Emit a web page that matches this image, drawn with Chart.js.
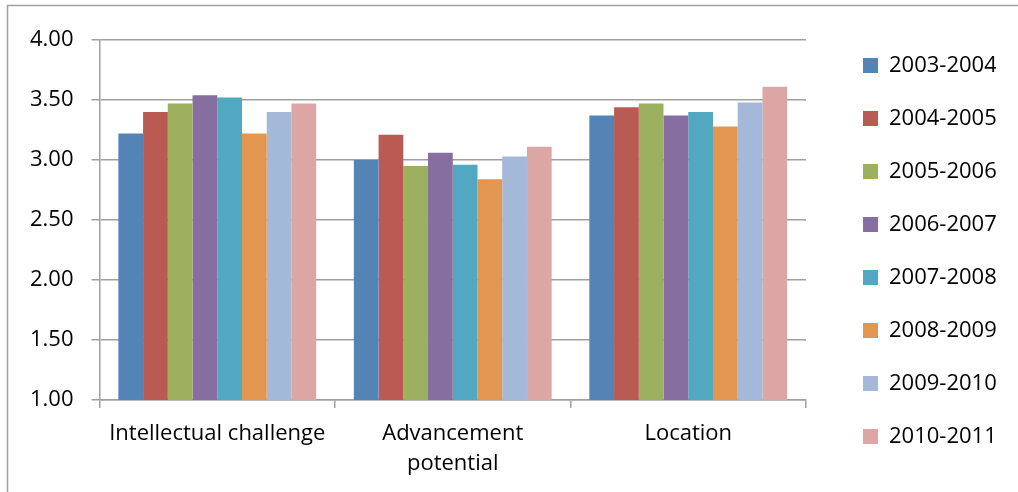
<!DOCTYPE html>
<html>
<head>
<meta charset="utf-8">
<script src="https://cdn.jsdelivr.net/npm/chart.js@4.4.1/dist/chart.umd.min.js"></script>
<style>
  html, body { margin: 0; padding: 0; background: #fff; }
  #wrap { width: 1018px; height: 492px; }
</style>
</head>
<body>
<div id="wrap"><canvas id="grafico"></canvas></div>
<script>
// dados
const categorias = ['Intellectual challenge', ['Advancement', 'potential'], 'Location'];
const anos = ['2003-2004', '2004-2005', '2005-2006', '2006-2007', '2007-2008', '2008-2009', '2009-2010', '2010-2011'];
const valores2003 = [3.22, 3.00, 3.37];
const valores2004 = [3.40, 3.21, 3.44];
const valores2005 = [3.47, 2.95, 3.47];
const valores2006 = [3.54, 3.06, 3.37];
const valores2007 = [3.52, 2.96, 3.40];
const valores2008 = [3.22, 2.84, 3.28];
const valores2009 = [3.40, 3.03, 3.48];
const valores2010 = [3.47, 3.11, 3.61];
const ticksY = [1.00, 1.50, 2.00, 2.50, 3.00, 3.50, 4.00];

const series = [valores2003, valores2004, valores2005, valores2006, valores2007, valores2008, valores2009, valores2010];
const cores = ['#5483b6', '#b95a53', '#9db05f', '#866ea0', '#51a8c0', '#e3964f', '#a4b8d9', '#dca6a4'];

const fonte = '"Open Sans", Lato, sans-serif';
const corGrade = '#a0a0a0';

// moldura: só esquerda e topo
const moldura = {
    id: 'moldura',
    afterDraw(chart) {
        const ctx = chart.ctx;
        ctx.save();
        ctx.strokeStyle = corGrade;
        ctx.lineWidth = 1.5;
        ctx.beginPath();
        ctx.moveTo(7.5, chart.height);
        ctx.lineTo(7.5, 5.5);
        ctx.lineTo(chart.width, 5.5);
        ctx.stroke();
        ctx.restore();
    }
};

// eixo vazio só para reservar espaço
function espaco(pos, tamanho) {
    return {
        type: 'linear',
        axis: (pos === 'top' || pos === 'bottom') ? 'x' : 'y',
        position: pos,
        display: true,
        min: 0, max: 1,
        ticks: { display: false },
        grid: { display: false },
        border: { display: false },
        afterFit: (axis) => {
            if (pos === 'top' || pos === 'bottom') axis.height = tamanho;
            else axis.width = tamanho;
        }
    };
}

function desenhar() {
    const ctx = document.getElementById('grafico').getContext('2d');
    new Chart(ctx, {
        type: 'bar',
        data: {
            labels: categorias,
            datasets: series.map((s, i) => ({
                label: anos[i],
                data: s,
                xAxisID: 'x',
                yAxisID: 'y',
                backgroundColor: cores[i],
                borderWidth: 0,
                categoryPercentage: 0.84,
                barPercentage: 1
            }))
        },
        options: {
            responsive: true,
            maintainAspectRatio: false,
            animation: false,
            layout: { padding: { left: 12, top: 10, right: 22, bottom: 0 } },
            scales: {
                x: {
                    type: 'category',
                    ticks: {
                        color: '#000',
                        font: { family: fonte, size: 22, lineHeight: 1.35 },
                        padding: 11,
                        maxRotation: 0
                    },
                    grid: { offset: true, drawOnChartArea: false, color: corGrade, lineWidth: 1.5, tickLength: 8 },
                    border: { color: corGrade, width: 1.5 },
                    afterFit: (axis) => { axis.height = 92; }
                },
                y: {
                    type: 'linear',
                    min: 1, max: 4,
                    afterBuildTicks: (axis) => { axis.ticks = ticksY.map(v => ({ value: v })); },
                    ticks: {
                        callback: (v) => Number(v).toFixed(2),
                        color: '#000',
                        font: { family: fonte, size: 22 },
                        padding: 18
                    },
                    grid: { color: corGrade, lineWidth: 1.5, tickLength: 8 },
                    border: { color: corGrade, width: 1.5 }
                },
                topo: espaco('top', 30),
                gap: espaco('right', 26)
            },
            plugins: {
                legend: {
                    position: 'right',
                    labels: {
                        color: '#000',
                        font: { family: fonte, size: 22 },
                        boxWidth: 15,
                        boxHeight: 15,
                        padding: 31
                    }
                },
                tooltip: { enabled: false }
            }
        },
        plugins: [moldura]
    });
}

// espera a fonte carregar antes de medir os textos
document.fonts.load('22px "Open Sans"').then(desenhar, desenhar);
</script>
</body>
</html>
